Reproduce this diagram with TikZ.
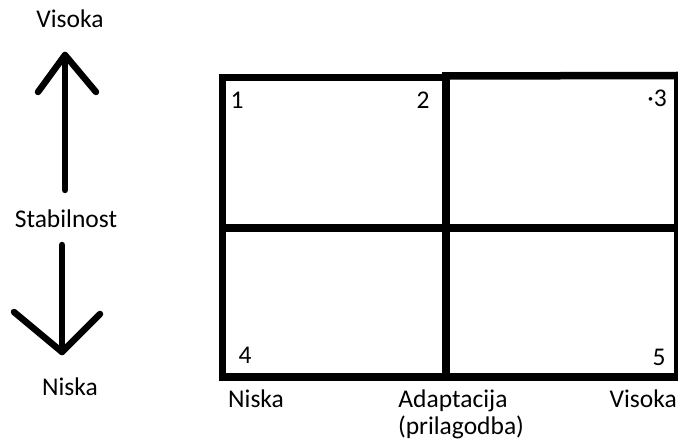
\documentclass[tikz,border=0pt]{standalone}
\usepackage{fontspec}
\setmainfont{Carlito}
\begin{document}
\begin{tikzpicture}[x=1pt,y=-1pt,
  lbl/.style={inner sep=0pt,anchor=base,font=\fontsize{25.5}{30}\selectfont},
  gridline/.style={line width=7.5pt,line cap=rect},
  arrowline/.style={line width=6.5pt,line cap=round,line join=round}]
\useasboundingbox (0,0) rectangle (678,446);
% left axis labels
\node[lbl] (vis) at (70,28) {Visoka};
\node[lbl] (stab) at (66,228) {Stabilnost};
\node[lbl] (nis) at (70,396) {Niska};
\coordinate (upbase) at (65,190);
\coordinate (uptip) at (65,55);
\coordinate (dnbase) at (62,245);
\coordinate (dntip) at (62,352);
\draw[arrowline] (upbase) -- (uptip);
\draw[arrowline] (38,92) -- (uptip) -- (96,92);
\draw[arrowline] (dnbase) -- (dntip);
\draw[arrowline] (14,312) -- (dntip) -- (100,314);
% grid
\coordinate (tl) at (222.5,77.5);
\coordinate (tm) at (446,76);
\coordinate (tr) at (678,75.5);
\coordinate (bl) at (222.5,377);
\coordinate (bm) at (446,377);
\coordinate (br) at (678,377);
\coordinate (ml) at (222.5,228);
\coordinate (mr) at (678,228);
\draw[gridline] (tl) -- (bl) -- (br) -- (tr);
\draw[gridline] (tl) -- (446,77.5);
\draw[gridline] (tm) -- (tr);
\draw[gridline] (tm) -- (bm);
\draw[gridline] (ml) -- (mr);
% cell numbers
\node[lbl] (n1) at (237,109) {1};
\node[lbl] (n2) at (423,109) {2};
\node[lbl] (n3) at (657,107) {·3};
\node[lbl] (n4) at (245,364) {4};
\node[lbl] (n5) at (659,366) {5};
% bottom axis labels
\node[lbl,anchor=base west] (bn) at (228,408) {Niska};
\node[lbl] (adapt) at (453,408) {Adaptacija};
\node[lbl] (pril) at (461,435) {(prilagodba)};
\node[lbl,anchor=base east] (bv) at (677,408) {Visoka};
\end{tikzpicture}
\end{document}
